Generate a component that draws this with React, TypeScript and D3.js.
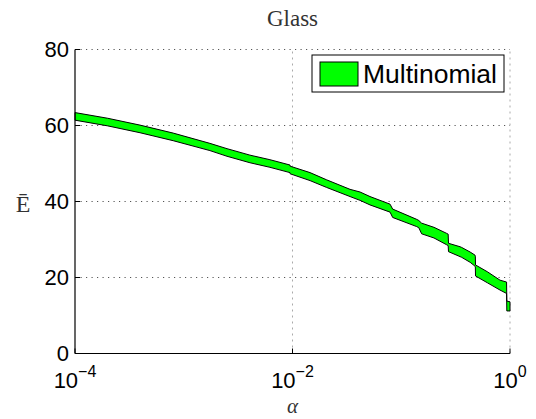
import React from "react";
import * as d3 from "d3";

const title = "Glass";
const legendLabel = "Multinomial";
const yLabel = "Ē";
const xLabel = "α";

// alpha values (log x axis) with upper / lower edges of the band
const alphas = [
  0.0001, 0.0002, 0.000396, 0.0008, 0.00174, 0.0025, 0.00406, 0.0062, 0.00948,
  0.0095, 0.0145, 0.0206, 0.0338, 0.0418, 0.0516, 0.0789, 0.0834, 0.1387,
  0.145, 0.154, 0.2, 0.262, 0.27, 0.272, 0.347, 0.36, 0.43, 0.476, 0.48, 0.482,
  0.62, 0.809, 0.93, 0.935, 1.0,
];
const upper = [
  63.4, 61.9, 60.1, 58.0, 55.3, 53.9, 52.2, 51.0, 49.6,
  49.3, 47.6, 45.7, 43.2, 42.5, 41.3, 39.3, 38.0, 35.3,
  35.0, 34.3, 33.2, 31.6, 31.4, 29.0, 28.1, 27.9, 26.7, 25.9, 25.6, 23.3,
  21.5, 19.3, 18.8, 13.8, 13.6,
];
const lower = [
  61.4, 59.9, 58.1, 56.0, 53.4, 51.9, 50.2, 49.0, 47.6,
  47.3, 45.5, 43.7, 41.3, 40.3, 39.1, 37.2, 35.8, 33.4,
  33.1, 31.5, 30.4, 28.6, 28.4, 26.8, 25.5, 25.3, 24.0, 23.0, 22.8, 20.4,
  18.6, 16.7, 15.8, 11.2, 11.2,
];

const yTicks = [0, 20, 40, 60, 80];
const xTickExps = [-4, -2, 0];

export default function App() {
  const W = 536;
  const H = 419;
  const x = d3.scaleLog().domain([1e-4, 1]).range([75, 510]);
  const y = d3.scaleLinear().domain([0, 80]).range([353.5, 49.5]);
  const data = alphas.map((a, i) => ({ a, u: upper[i], l: lower[i] }));
  const area = d3
    .area<{ a: number; u: number; l: number }>()
    .x((d) => x(d.a))
    .y0((d) => y(d.l))
    .y1((d) => y(d.u));

  const [x0, x1] = x.range();
  const [y0, y1] = y.range();
  const serif = "'Liberation Serif', 'Times New Roman', serif";

  return (
    <svg
      width={W}
      height={H}
      style={{ position: "absolute", left: 0, top: 0, background: "#fff" }}
      fontFamily="'Liberation Sans', Arial, sans-serif"
    >
      <rect width={W} height={H} fill="#fff" />
      {/* grid */}
      {yTicks.slice(1).map((t) => (
        <line key={"gy" + t} x1={x0} x2={x1} y1={y(t)} y2={y(t)} stroke="#555" strokeWidth={1} strokeDasharray="1.2 4.3" />
      ))}
      {xTickExps.slice(1).map((e) => (
        <line key={"gx" + e} x1={x(Math.pow(10, e))} x2={x(Math.pow(10, e))} y1={y0} y2={y1} stroke="#aaa" strokeWidth={1} strokeDasharray="2 4" />
      ))}
      {/* band */}
      <path d={area(data) || ""} fill="#00ff00" stroke="#000" strokeWidth={1} strokeLinejoin="miter" />
      {/* axes */}
      <line x1={x0} x2={x1} y1={y0} y2={y0} stroke="#000" strokeWidth={1.2} />
      <line x1={x0} x2={x0} y1={y0} y2={y1} stroke="#000" strokeWidth={1.2} />
      {yTicks.map((t) => (
        <g key={"yt" + t}>
          <line x1={x0} x2={x0 + 5} y1={y(t)} y2={y(t)} stroke="#000" />
          <text x={x0 - 6} y={y(t)} dy="0.36em" textAnchor="end" fontSize={22} fill="#000">
            {t}
          </text>
        </g>
      ))}
      {xTickExps.map((e) => (
        <g key={"xt" + e}>
          <line x1={x(Math.pow(10, e))} x2={x(Math.pow(10, e))} y1={y0} y2={y0 - 5} stroke="#000" />
          <text x={x(Math.pow(10, e))} y={388} textAnchor="middle" fontSize={22} fill="#000">
            <tspan>10</tspan>
            <tspan dy={-11} fontSize={16}>{e < 0 ? "−" + Math.abs(e) : String(e)}</tspan>
          </text>
        </g>
      ))}
      {/* title & labels */}
      <text x={(x0 + x1) / 2} y={26} textAnchor="middle" fontFamily={serif} fontSize={23} fill="#333">
        {title}
      </text>
      <text x={(x0 + x1) / 2} y={413} textAnchor="middle" fontFamily={serif} fontStyle="italic" fontSize={21} fill="#333">
        {xLabel}
      </text>
      <text x={23} y={212} textAnchor="middle" fontFamily={serif} fontSize={24} fill="#333">
        {yLabel}
      </text>
      {/* legend */}
      <rect x={312} y={55} width={192} height={37} fill="#fff" stroke="#000" strokeWidth={1} />
      <rect x={320} y={62} width={38} height={24} fill="#00ff00" stroke="#000" strokeWidth={1} />
      <text x={363} y={83} fontSize={26} fill="#000" textLength={134} lengthAdjust="spacingAndGlyphs">
        {legendLabel}
      </text>
    </svg>
  );
}
